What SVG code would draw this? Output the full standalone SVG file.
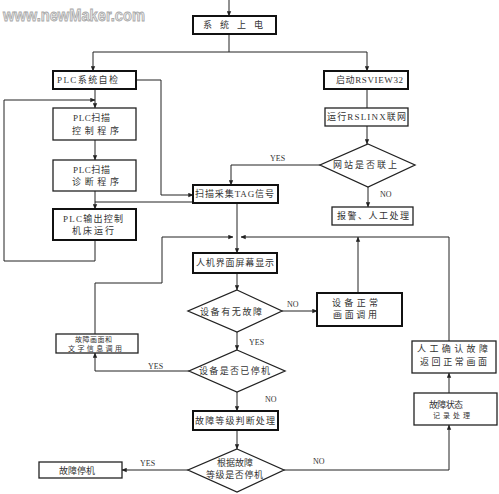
<svg xmlns="http://www.w3.org/2000/svg" width="499" height="494" viewBox="0 0 499 494">
<defs>
<marker id="ah" viewBox="0 0 8 8" refX="7.5" refY="4" markerWidth="5" markerHeight="5" orient="auto" markerUnits="userSpaceOnUse">
<path d="M0,0.5 L8,4 L0,7.5 z" fill="#222"/>
</marker>
<style>
.b{fill:#fff;stroke:#222;stroke-width:1.3}
.bb{fill:#fff;stroke:#111;stroke-width:2}
.t{font-family:"Liberation Serif","Noto Sans CJK SC",serif;font-size:9px;fill:#333}
.s{font-family:"Liberation Serif","Noto Sans CJK SC",serif;font-size:7px;fill:#333}
.l{font-family:"Liberation Serif",serif;font-size:8px;fill:#333}
.c{fill:none;stroke:#222;stroke-width:1}
.a{marker-end:url(#ah)}
</style>
</defs>
<rect width="499" height="494" fill="#fff"/>
<text x="3" y="21" textLength="142" lengthAdjust="spacingAndGlyphs" style="font-family:'Liberation Sans',sans-serif;font-weight:bold;font-size:16px;fill:#e6e6e6;stroke:#a8a8a8;stroke-width:0.8">www.newMaker.com</text>

<g id="connectors">
<path class="c a" d="M229,0 V16"/>
<path class="c" d="M229,34 V52 M93,52 H367"/>
<path class="c a" d="M93,52 V71"/>
<path class="c a" d="M367,52 V71"/>
<path class="c a" d="M136,80 H161 V195 H193"/>
<path class="c a" d="M95,89 V108"/>
<path class="c a" d="M95,240 V261 H4 V100 H95"/>
<path class="c a" d="M95,140 V160"/>
<path class="c a" d="M95,191 V209"/>
<path class="c" d="M95,202 H193"/>
<path class="c" d="M367,89 V108"/>
<path class="c a" d="M367,126 V144"/>
<path class="c a" d="M320,165 H231 V185"/>
<path class="c a" d="M368,187 V207"/>
<path class="c a" d="M237,203 V253"/>
<path class="c a" d="M95,334 V283 H162 V237 H233"/>
<path class="c a" d="M449,341 V237 H241"/>
<path class="c a" d="M358,293 V237"/>
<path class="c a" d="M237,273 V290"/>
<path class="c a" d="M282,311 H317"/>
<path class="c a" d="M237,332 V350"/>
<path class="c a" d="M189,371 H95 V353"/>
<path class="c a" d="M237,392 V411"/>
<path class="c a" d="M237,430 V449"/>
<path class="c a" d="M188,470 H122"/>
<path class="c a" d="M284,470 H449 V425"/>
<path class="c a" d="M449,393 V373"/>
<text class="l" x="270" y="161">YES</text>
<text class="l" x="380" y="197">NO</text>
<text class="l" x="287" y="307">NO</text>
<text class="l" x="249" y="345">YES</text>
<text class="l" x="148" y="369">YES</text>
<text class="l" x="265" y="402">NO</text>
<text class="l" x="140" y="466">YES</text>
<text class="l" x="313" y="464">NO</text>
</g>

<g id="n_power"><rect class="bb" x="193" y="16" width="83" height="18"/><text class="t" x="203" y="28" textLength="60">系统上电</text></g>
<g id="n_plc_check"><rect class="bb" x="53" y="71" width="83" height="18"/><text class="t" x="57" y="83" textLength="61">PLC系统自检</text></g>
<g id="n_rsview"><rect class="bb" x="324" y="71" width="84" height="18"/><text class="t" x="336" y="83" textLength="67">启动RSVIEW32</text></g>
<g id="n_rslinx"><rect class="b" x="325" y="108" width="83" height="18"/><text class="t" x="327" y="120" textLength="79">运行RSLINX联网</text></g>
<g id="n_net"><polygon class="b" points="368,144 415,165 368,187 320,165"/><text class="t" x="333" y="168" textLength="64">网站是否联上</text></g>
<g id="n_alarm"><rect class="b" x="332" y="207" width="81" height="18"/><text class="t" x="337" y="219" textLength="72">报警、人工处理</text></g>
<g id="n_scan_ctrl"><rect class="b" x="53" y="108" width="83" height="32"/><text class="t" x="73" y="121" textLength="37">PLC扫描</text><text class="t" x="72" y="134" textLength="47">控制程序</text></g>
<g id="n_scan_diag"><rect class="b" x="53" y="160" width="83" height="31"/><text class="t" x="73" y="173" textLength="37">PLC扫描</text><text class="t" x="72" y="185" textLength="47">诊断程序</text></g>
<g id="n_plc_out"><rect class="bb" x="53" y="209" width="83" height="31"/><text class="t" x="63" y="222" textLength="60">PLC输出控制</text><text class="t" x="72" y="234" textLength="42">机床运行</text></g>
<g id="n_tag"><rect class="bb" x="193" y="185" width="85" height="18"/><text class="t" x="195" y="197" textLength="79">扫描采集TAG信号</text></g>
<g id="n_hmi"><rect class="bb" x="193" y="253" width="84" height="20"/><text class="t" x="196" y="266" textLength="78">人机界面屏幕显示</text></g>
<g id="n_fault_q"><polygon class="b" points="237,290 282,311 237,332 188,311"/><text class="t" x="200" y="315" textLength="62">设备有无故障</text></g>
<g id="n_normal"><rect class="bb" x="317" y="293" width="85" height="33"/><text class="t" x="332" y="306" textLength="46">设备正常</text><text class="t" x="333" y="318" textLength="44">画面调用</text></g>
<g id="n_stop_q"><polygon class="b" points="237,350 285,371 237,392 189,371"/><text class="t" x="199" y="374" textLength="71">设备是否已停机</text></g>
<g id="n_fault_screen"><rect class="b" x="56" y="334" width="82" height="19"/><text class="s" x="75" y="342" textLength="37">故障画面和</text><text class="s" x="68" y="351" textLength="54">文字信息调用</text></g>
<g id="n_level"><rect class="bb" x="193" y="411" width="85" height="19"/><text class="t" x="195" y="424" textLength="80">故障等级判断处理</text></g>
<g id="n_level_q"><polygon class="b" points="237,449 284,470 237,492 188,470"/><text class="t" x="217" y="466" textLength="36">根据故障</text><text class="t" x="206" y="478" textLength="57">等级是否停机</text></g>
<g id="n_halt"><rect class="b" x="39" y="462" width="83" height="16"/><text class="t" x="59" y="474" textLength="36">故障停机</text></g>
<g id="n_record"><rect class="b" x="414" y="393" width="83" height="32"/><text class="t" x="429" y="408" textLength="34">故障状态</text><text class="s" x="433" y="418" textLength="37">记录处理</text></g>
<g id="n_confirm"><rect class="b" x="412" y="341" width="84" height="32"/><text class="t" x="417" y="352" textLength="71">人工确认故障</text><text class="t" x="420" y="365" textLength="67">返回正常画面</text></g>
</svg>
